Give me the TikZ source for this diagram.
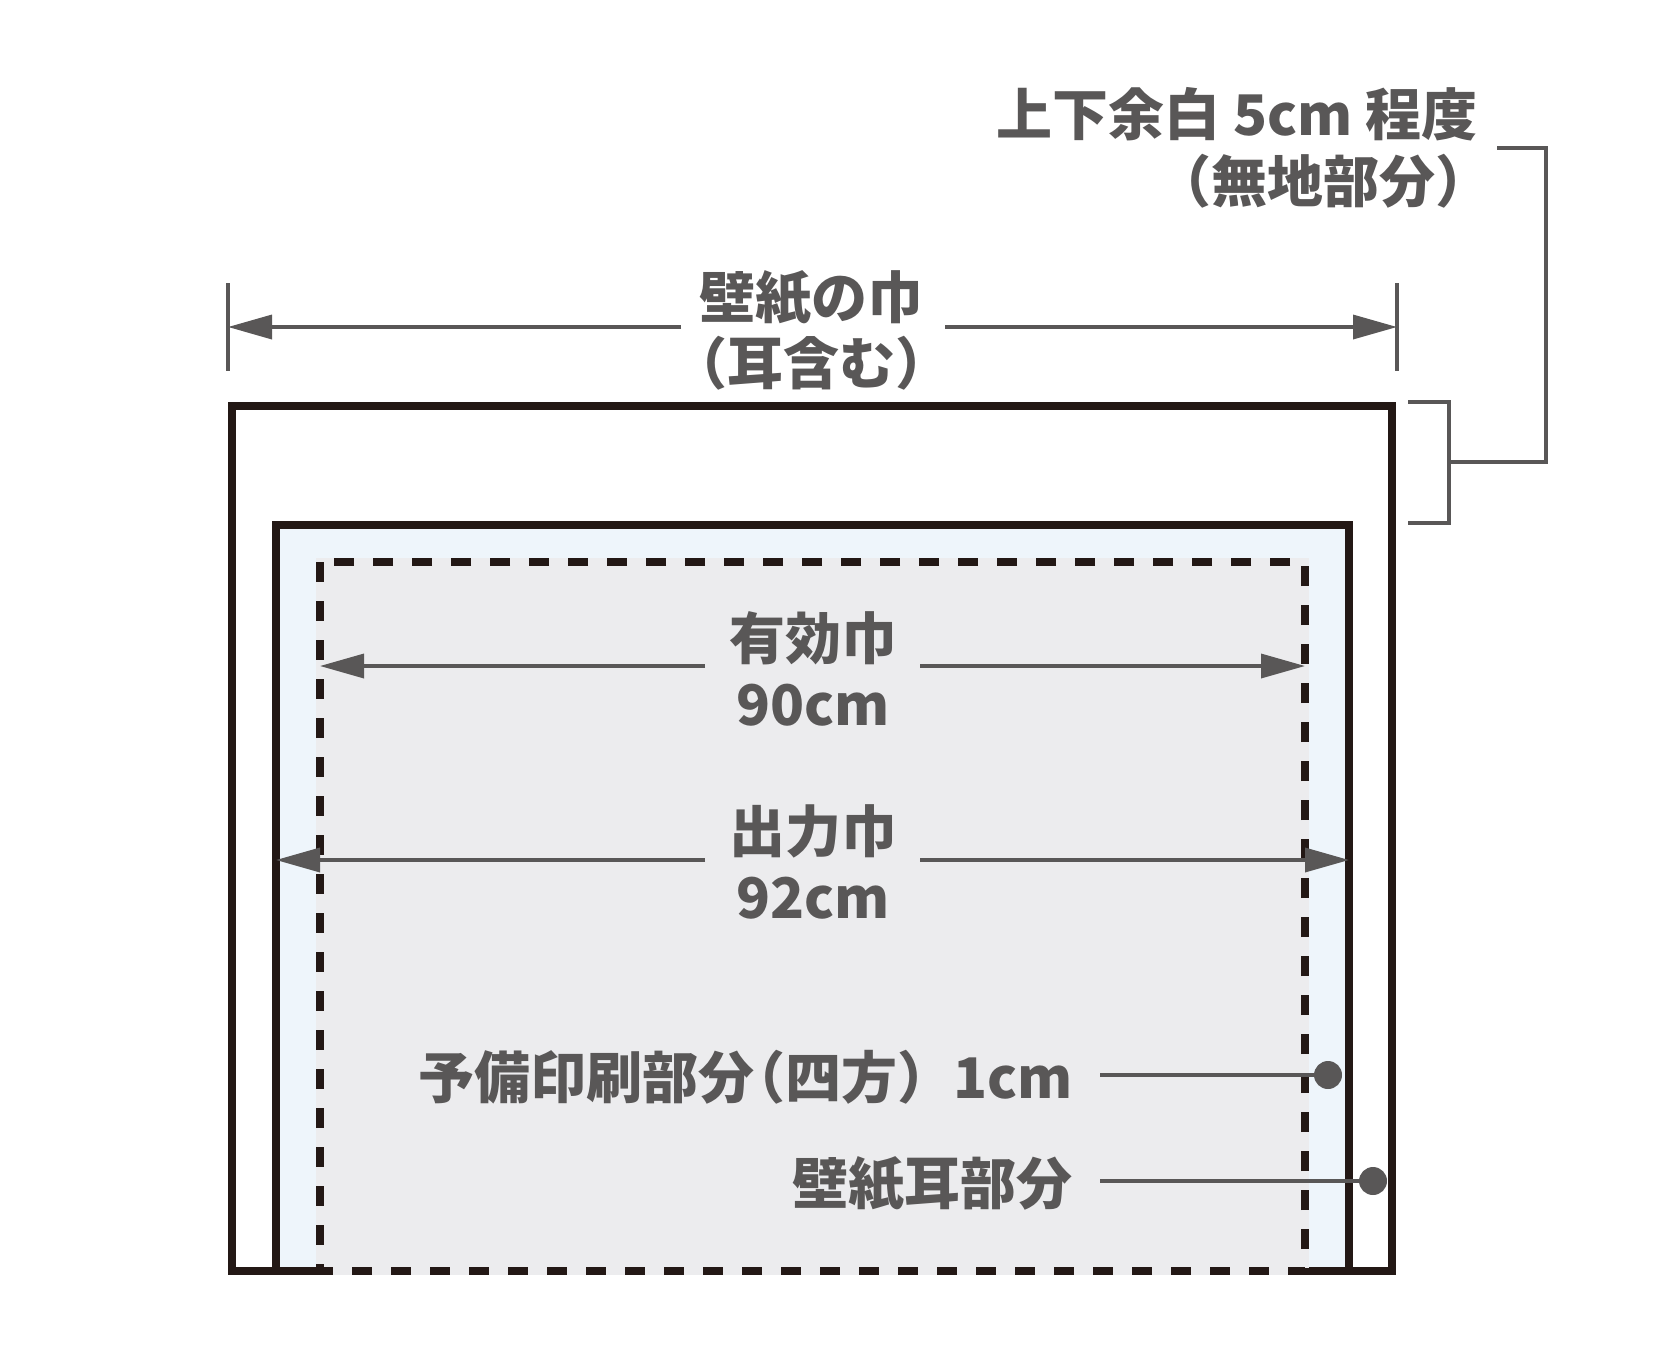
\documentclass[tikz,border=0pt]{standalone}
\usepackage{fontspec}
\setmainfont{Noto Sans CJK JP}
\usetikzlibrary{arrows.meta}
\definecolor{txtgray}{HTML}{595757}
\definecolor{inkblack}{HTML}{231815}
\definecolor{lblue}{HTML}{EEF5FB}
\definecolor{lgray}{HTML}{ECECEE}
\newcommand\lbfont{\fontsize{56}{66}\selectfont\bfseries}
\begin{document}
\begin{tikzpicture}[x=1pt,y=-1pt,
  blk/.style={draw=inkblack,line width=8pt},
  gl/.style={draw=txtgray,line width=3.5pt},
  dimarrow/.style={gl,-{Triangle[length=44pt,width=24pt]}},
  lbl/.style={text=txtgray,inner sep=0pt,font=\lbfont},
  dot/.style={circle,fill=txtgray,inner sep=0pt,minimum size=28pt}]
\useasboundingbox (0,0) rectangle (1667,1358);
% paper outlines
\draw[blk] (232,406) rectangle (1392,1271);
\draw[blk,fill=lblue] (276,525) rectangle (1349,1271);
\fill[lgray] (316,558) rectangle (1309,1275);
\draw[blk,dash pattern=on 20pt off 19pt] (320,562) rectangle (1305,1271);
% top dimension
\draw[gl] (228,283) -- (228,371);
\draw[gl] (1397,283) -- (1397,371);
\coordinate (tL) at (228,327);
\coordinate (tR) at (1397,327);
\node[lbl,align=center,anchor=base] (wlab) at (811,384) {壁紙の巾\\（耳含む）};
\coordinate (wl) at (681,327);
\coordinate (wr) at (945,327);
\draw[dimarrow] (wl) -- (tL);
\draw[dimarrow] (wr) -- (tR);
% effective width
\node[lbl,align=center,anchor=base] (eff) at (813,725) {有効巾\\90cm};
\coordinate (el) at (705,666);
\coordinate (er) at (920,666);
\coordinate (eL) at (320,666);
\coordinate (eR) at (1305,666);
\draw[dimarrow] (el) -- (eL);
\draw[dimarrow] (er) -- (eR);
% output width
\node[lbl,align=center,anchor=base] (out) at (813,918) {出力巾\\92cm};
\coordinate (ol) at (705,860);
\coordinate (or) at (920,860);
\coordinate (oL) at (276,860);
\coordinate (oR) at (1349,860);
\draw[dimarrow] (ol) -- (oL);
\draw[dimarrow] (or) -- (oR);
% margin note
\node[lbl,anchor=base east] (m1) at (1478,135) {上下余白 5cm 程度};
\node[lbl,anchor=base east] (m2) at (1492,202) {（無地部分）};
\draw[gl] (1408,402) -- (1449,402) -- (1449,523) -- (1408,523);
\coordinate (bm) at (1449,462);
\coordinate (bc) at (1546,148);
\coordinate (be) at (1497,148);
\draw[gl] (bm) -- (1546,462) -- (bc) -- (be);
% callouts
\node[lbl,anchor=base east] (p1) at (1073,1098) {予備印刷部分\kern-0.45em（四方）1cm};
\node[lbl,anchor=base east] (p2) at (1073,1204) {壁紙耳部分};
\node[dot] (d1) at (1328,1075) {};
\node[dot] (d2) at (1373,1181) {};
\coordinate (s1) at (1100,1075);
\coordinate (s2) at (1100,1181);
\draw[gl] (s1) -- (d1);
\draw[gl] (s2) -- (d2);
\end{tikzpicture}
\end{document}
